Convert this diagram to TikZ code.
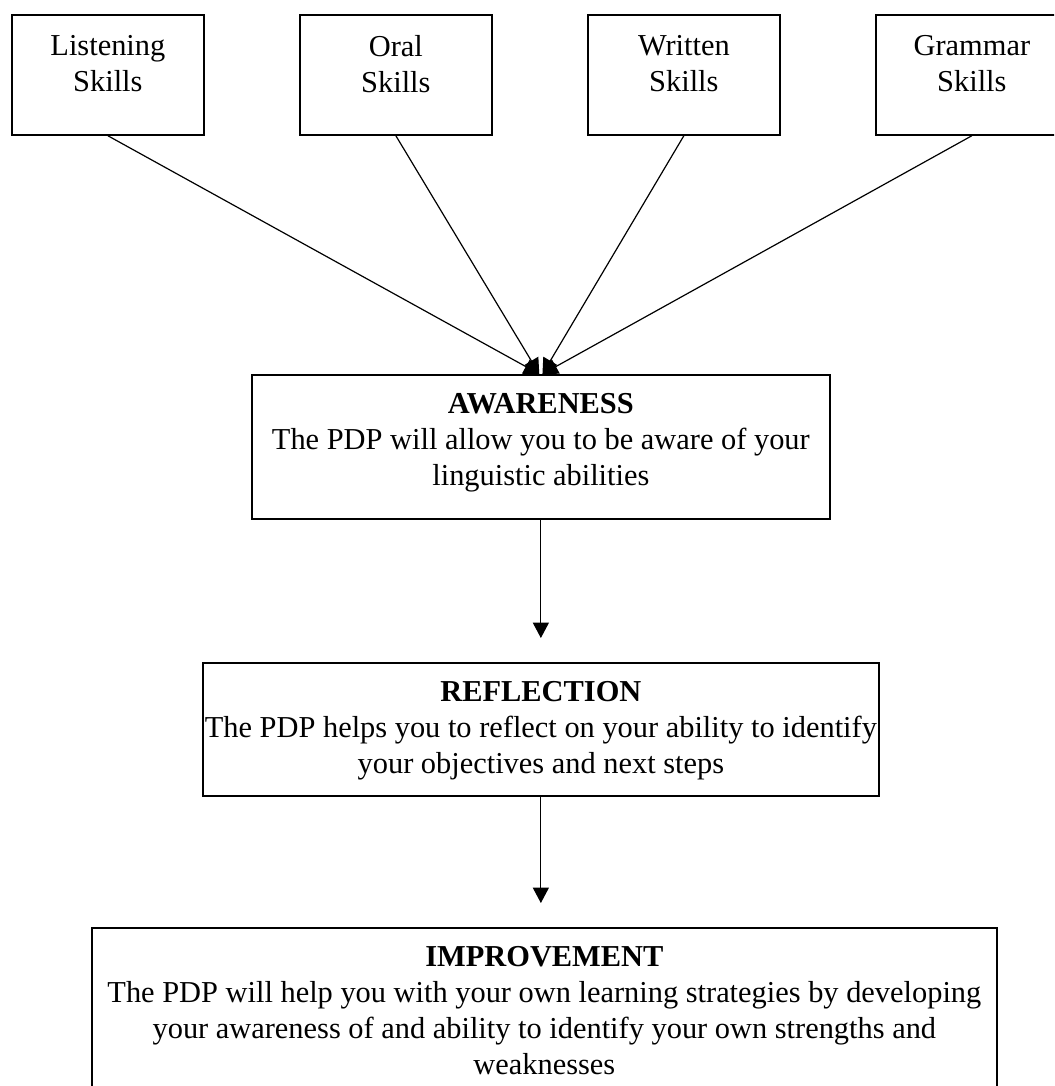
\documentclass[tikz,border=0pt]{standalone}
\usepackage{fontspec}
\setmainfont{Liberation Serif}
\usetikzlibrary{arrows.meta}
\begin{document}
\begin{tikzpicture}[x=0.75pt,y=-0.75pt,
  box/.style={draw,line width=1.3pt,inner sep=0pt,anchor=north west},
  txt/.style={align=center,font=\fontsize{22.8}{27}\selectfont,inner sep=0pt,anchor=north},
  conn/.style={line width=0.9pt,-{Triangle[width=12pt,length=11.5pt]}}]
\useasboundingbox (0,0) rectangle (1054,1086);
\clip (0,0) rectangle (1054,1086);
% top boxes
\node[box,minimum width=144pt,minimum height=90pt] (listen) at (11,14) {};
\node[box,minimum width=144pt,minimum height=90pt] (oral) at (299,14) {};
\node[box,minimum width=144pt,minimum height=90pt] (written) at (587,14) {};
\node[box,minimum width=144pt,minimum height=90pt] (grammar) at (875,14) {};
\node[txt] (listenT) at ([yshift=-15.5pt]listen.north) {Listening\\Skills};
\node[txt] (oralT) at ([yshift=-15.5pt]oral.north) {Oral\\Skills};
\node[txt] (writtenT) at ([yshift=-15.5pt]written.north) {Written\\Skills};
\node[txt] (grammarT) at ([yshift=-15.5pt]grammar.north) {Grammar\\Skills};
% awareness
\node[box,minimum width=433.5pt,minimum height=108pt] (aware) at (251,374) {};
\node[txt] (awareT) at ([yshift=-14.5pt]aware.north) {\textbf{AWARENESS}\\The PDP will allow you to be aware of your\\linguistic abilities};
% reflection
\node[box,minimum width=507pt,minimum height=99.75pt] (refl) at (202,662) {};
\node[txt] (reflT) at ([yshift=-14.5pt]refl.north) {\textbf{REFLECTION}\\The PDP helps you to reflect on your ability to identify\\your objectives and next steps};
% improvement
\node[box,minimum width=678.75pt,minimum height=150pt] (impr) at (91,927) {};
\node[txt] (imprT) at ([yshift=-14.5pt]impr.north) {\textbf{IMPROVEMENT}\\The PDP will help you with your own learning strategies by developing\\your awareness of and ability to identify your own strengths and\\weaknesses};
% connectors
\draw[conn] (listen.south) -- ([xshift=-1.2pt]aware.north);
\draw[conn] (oral.south) -- ([xshift=-1.2pt]aware.north);
\draw[conn] (written.south) -- ([xshift=1.2pt]aware.north);
\draw[conn] (grammar.south) -- ([xshift=1.2pt]aware.north);
\draw[conn] (aware.south) -- ([yshift=18pt]aware.south |- refl.north);
\draw[conn] (aware.south |- refl.south) -- ([yshift=18pt]aware.south |- impr.north);
\end{tikzpicture}
\end{document}
